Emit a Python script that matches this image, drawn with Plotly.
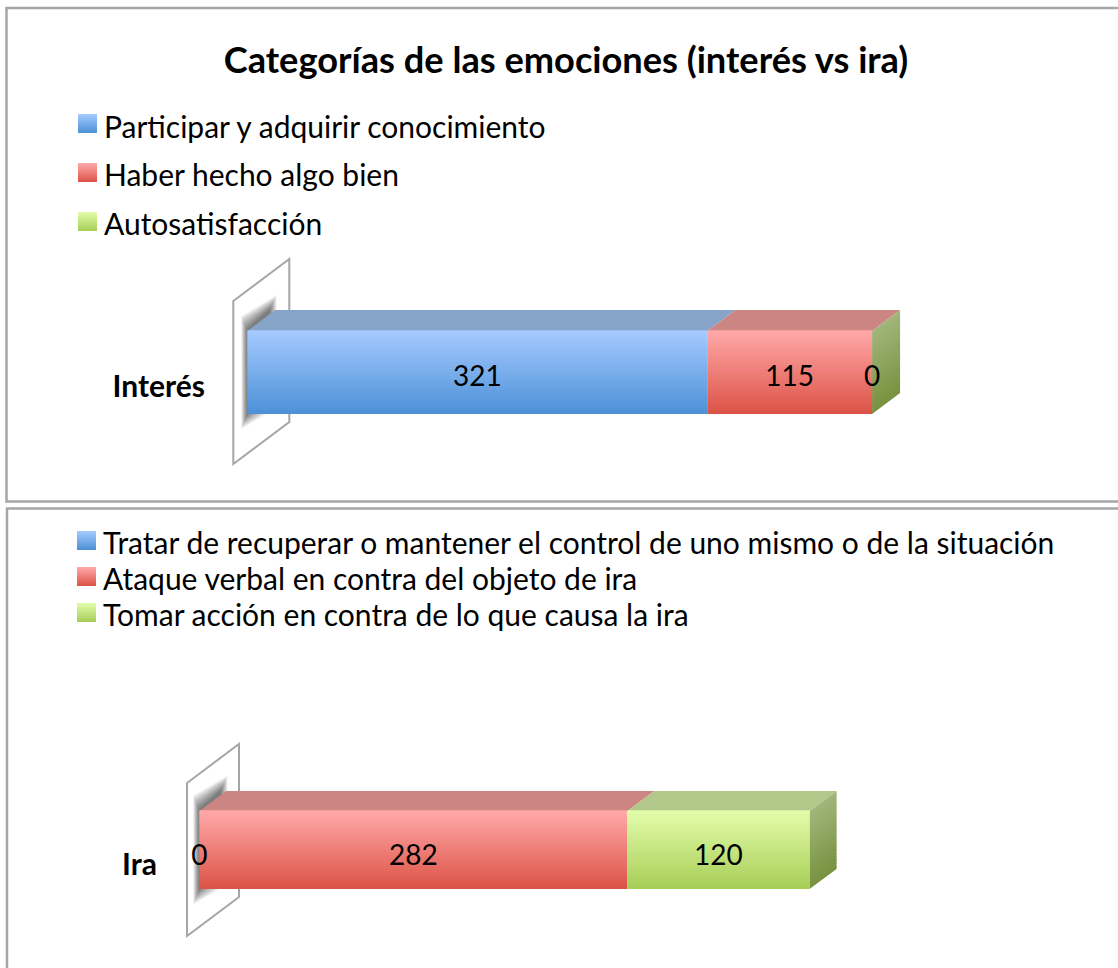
import plotly.graph_objects as go

W, H = 1118, 968
FONT = "Lato"

# ---- data ----
TITLE = "Categorías de las emociones (interés vs ira)"
CATEGORY_TOP = "Interés"
CATEGORY_BOTTOM = "Ira"
SERIES_TOP = ["Participar y adquirir conocimiento", "Haber hecho algo bien", "Autosatisfacción"]
VALUES_TOP = [321, 115, 0]
SERIES_BOTTOM = ["Tratar de recuperar o mantener el control de uno mismo o de la situación",
                 "Ataque verbal en contra del objeto de ira",
                 "Tomar acción en contra de lo que causa la ira"]
VALUES_BOTTOM = [0, 282, 120]

# ---- styles ----
GRAD_TOP = ["#A4C9FF", "#FFA7A7", "#E1FCA9"]
GRAD_BOT = ["#4D92D7", "#DC5448", "#A9CE58"]
ROOF = ["#86A3C8", "#CB8583", "#B2C78A"]
SIDE_TOP, SIDE_BOT = "#A0B67A", "#789240"
FRAME = "#A6A6A6"
N = 24


def hex2rgb(c):
    return [int(c[i:i + 2], 16) for i in (1, 3, 5)]


def mix(a, b, t):
    ra, rb = hex2rgb(a), hex2rgb(b)
    return "rgb(%d,%d,%d)" % tuple(round(p + (q - p) * t) for p, q in zip(ra, rb))


def py(p):
    return 1 - p / H


fig = go.Figure()
shapes = []
annotations = []


def panel(idx, category, names, values, x0, sx, y_tick, bar_top, bar_bot, dpx, dpy, wall, dom):
    """x0, sx: pixel of value 0 and pixels per unit. dom: panel pixel span."""
    xa = "x" if idx == 1 else "x2"
    ya = "y" if idx == 1 else "y2"
    unit = bar_bot - bar_top
    lo = (y_tick - bar_bot) / unit   # bar bottom in y units
    hi = lo + 1
    dx, dy = dpx / sx, dpy / unit

    layout_x = dict(domain=[0, 1], range=[-x0 / sx, (W - x0) / sx], visible=False, anchor=ya)
    layout_y = dict(domain=[py(dom[1]), py(dom[0])],
                    range=[(y_tick - dom[1]) / unit, (y_tick - dom[0]) / unit],
                    tickmode="array", tickvals=[0], ticktext=[category], ticks="",
                    showgrid=False, zeroline=False, showline=False,
                    anchor="free", position=wall["label"] / W,
                    tickfont=dict(family=FONT, size=30, color="black", weight="bold"))
    fig.update_layout({("xaxis" if idx == 1 else "xaxis2"): layout_x,
                       ("yaxis" if idx == 1 else "yaxis2"): layout_y})

    def poly(pts, **kw):
        path = "M" + " L".join(f"{a:.4f},{b:.4f}" for a, b in pts) + " Z"
        shapes.append(dict(type="path", path=path, xref=xa, yref=ya, layer="below", **kw))

    # back wall
    wl, wr = wall["l"] / sx, wall["r"] / sx
    poly([(wl, (y_tick - wall["lt"]) / unit), (wr, (y_tick - wall["rt"]) / unit),
          (wr, (y_tick - wall["rb"]) / unit), (wl, (y_tick - wall["lb"]) / unit)],
         line=dict(color=FRAME, width=2), fillcolor="white")
    # soft shadow on the wall: nested translucent outlines of the bar's end
    for k in range(1, 13):
        grow = k * wall["grow"] / unit
        sl, sr = -k * 0.5 / sx, dx + (k * 0.6 - 6) / sx
        poly([(sl, hi + grow), (sr, hi + dy + grow), (sr, lo + dy - grow), (sl, lo - grow)],
             line=dict(width=0), fillcolor="rgba(0,0,0,0.055)")

    base = 0
    bases = []
    for v in values:
        bases.append(base)
        base += v
    total = base

    # roof faces
    for i, v in enumerate(values):
        if v > 0:
            b = bases[i]
            poly([(b, hi), (b + dx, hi + dy), (b + v + dx, hi + dy), (b + v, hi)],
                 line=dict(width=0), fillcolor=ROOF[i])
    # side face
    for k in range(N):
        t0, t1 = k / N, (k + 1.3) / N
        a, b = hi - t0, hi - min(t1, 1)
        poly([(total, a), (total + dx, a + dy), (total + dx, b + dy), (total, b)],
             line=dict(width=0), fillcolor=mix(SIDE_TOP, SIDE_BOT, k / (N - 1)))

    # front faces: stacked gradient bands drawn by the bar trace
    for i, v in enumerate(values):
        fig.add_trace(go.Bar(
            x=[v] * N, y=[0] * N, base=[bases[i]] * N, orientation="h",
            width=[1 / N + 0.01] * N,
            offset=[lo + k / N for k in range(N)],
            marker=dict(color=[mix(GRAD_BOT[i], GRAD_TOP[i], k / (N - 1)) for k in range(N)],
                        line=dict(width=0)),
            name=names[i], showlegend=False, hoverinfo="skip",
            xaxis=xa, yaxis=ya))

    # data labels
    fig.add_trace(go.Scatter(
        x=[bases[i] + values[i] / 2 for i in range(3)],
        y=[wall["text"] / unit] * 3,
        text=[str(v) for v in values], mode="text", textposition="middle center",
        textfont=dict(family=FONT, size=28, color="black"),
        showlegend=False, hoverinfo="skip", xaxis=xa, yaxis=ya))


panel(1, CATEGORY_TOP, SERIES_TOP, VALUES_TOP, 247.3, 1.433, 386, 331, 414, 28, 21,
      dict(l=-14, r=42, lt=301, lb=464, rt=259, rb=422, label=205, text=7, grow=1.25), (0, 500))
panel(2, CATEGORY_BOTTOM, SERIES_BOTTOM, VALUES_BOTTOM, 199.3, 1.518, 864, 811, 889, 27, 20,
      dict(l=-12.3, r=39.7, lt=783, lb=936, rt=744, rb=897, label=157, text=6, grow=1.3), (508, 968))


def legend(names, x_sw, x_txt, ys, size):
    for i, (name, yc) in enumerate(zip(names, ys)):
        top = yc[0]
        for k in range(19):
            shapes.append(dict(type="rect", xref="paper", yref="paper",
                               x0=x_sw / W, x1=(x_sw + 19) / W,
                               y0=py(top + k), y1=py(top + k + 1),
                               line=dict(width=0), layer="below",
                               fillcolor=mix(GRAD_TOP[i], GRAD_BOT[i], k / 18)))
        annotations.append(dict(text=name, xref="paper", yref="paper", x=x_txt / W, y=py(yc[1]),
                                xanchor="left", yanchor="middle", showarrow=False,
                                font=dict(family=FONT, size=size, color="black")))


legend(SERIES_TOP, 78, 102, [(114, 126), (163, 174), (212, 223)], 30)
legend(SERIES_BOTTOM, 77, 101, [(531, 542), (567, 578), (603, 614)], 30)

# chart frames
for x0, y0, x1, y1 in [(6.5, 8, 1130, 501.5), (7, 508.5, 1130, 1000)]:
    shapes.insert(0, dict(type="rect", xref="paper", yref="paper",
                          x0=x0 / W, x1=x1 / W, y0=py(y0), y1=py(y1),
                          line=dict(color=FRAME, width=2.5), fillcolor="white", layer="below"))

fig.update_layout(
    width=W, height=H, margin=dict(l=0, r=0, t=0, b=0),
    paper_bgcolor="white", plot_bgcolor="rgba(0,0,0,0)",
    barmode="overlay", showlegend=False,
    title=dict(text=f"<b>{TITLE}</b>", x=566 / W, y=py(60), xanchor="center", yanchor="middle",
               xref="paper", yref="paper",
               font=dict(family=FONT, size=36.2, color="black")),
    shapes=shapes, annotations=annotations,
)

fig.write_html("out.html", config=dict(displayModeBar=False),
               post_script="document.body.style.margin='0';document.body.style.overflow='hidden';")
